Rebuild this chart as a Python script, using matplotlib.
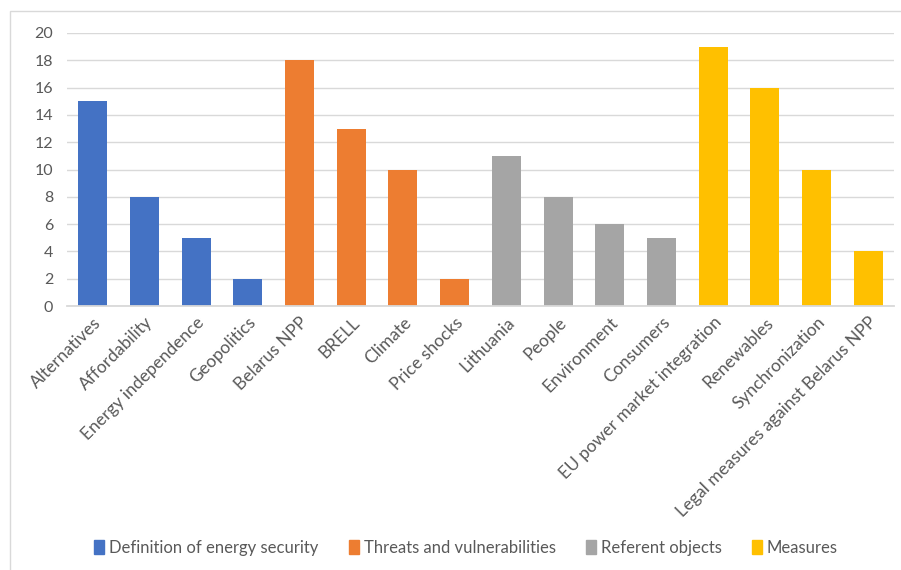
import matplotlib.pyplot as plt
from matplotlib.patches import Patch, Rectangle

plt.rcParams['font.family'] = ['Lato', 'DejaVu Sans']

# Categories and counts
categories = ['Alternatives', 'Affordability', 'Energy independence', 'Geopolitics',
              'Belarus NPP', 'BRELL', 'Climate', 'Price shocks',
              'Lithuania', 'People', 'Environment', 'Consumers',
              'EU power market integration', 'Renewables', 'Synchronization',
              'Legal measures against Belarus NPP']
values = [15, 8, 5, 2, 18, 13, 10, 2, 11, 8, 6, 5, 19, 16, 10, 4]
groups = [0, 0, 0, 0, 1, 1, 1, 1, 2, 2, 2, 2, 3, 3, 3, 3]
group_names = ['Definition of energy security', 'Threats and vulnerabilities',
               'Referent objects', 'Measures']
group_colors = ['#4472C4', '#ED7D31', '#A5A5A5', '#FFC000']

fig = plt.figure(figsize=(9.01, 5.70), dpi=100)
ax = fig.add_axes([67/901, 1 - 306/570, 827/901, 273/570])

# outer chart frame
fig.patches.append(Rectangle((10/901, -0.1), 1.0, 1 - 11/570 + 0.1,
                             transform=fig.transFigure, fill=False,
                             edgecolor='#D9D9D9', linewidth=1.0))

x = range(len(categories))
colors = [group_colors[g] for g in groups]
ax.bar(x, values, width=0.56, color=colors, zorder=3)

ax.set_xlim(-0.5, len(categories) - 0.5)
ax.set_ylim(0, 20)
ax.set_yticks(range(0, 21, 2))
ax.grid(axis='y', color='#D9D9D9', linewidth=1.0, zorder=0)
for s in ['top', 'right', 'left']:
    ax.spines[s].set_visible(False)
ax.spines['bottom'].set_color('#D9D9D9')
ax.spines['bottom'].set_linewidth(1.3)
ax.spines['bottom'].set_zorder(4)
ax.tick_params(axis='both', length=0, labelsize=11.5, labelcolor='#595959')
ax.tick_params(axis='y', pad=10)
ax.set_xticks(list(x))
ax.set_xticklabels(categories, rotation=45, ha='right', rotation_mode='anchor',
                   fontsize=12.5)
ax.tick_params(axis='x', pad=6)

handles = [Patch(color=c, label=n) for c, n in zip(group_colors, group_names)]
fig.legend(handles=handles, loc='center', bbox_to_anchor=(466/901, 1 - 548/570),
           ncol=4, frameon=False, fontsize=12, handlelength=0.6, handleheight=0.9,
           handletextpad=0.3, columnspacing=1.8, labelcolor='#595959')

fig.savefig('out.png', dpi=100)
